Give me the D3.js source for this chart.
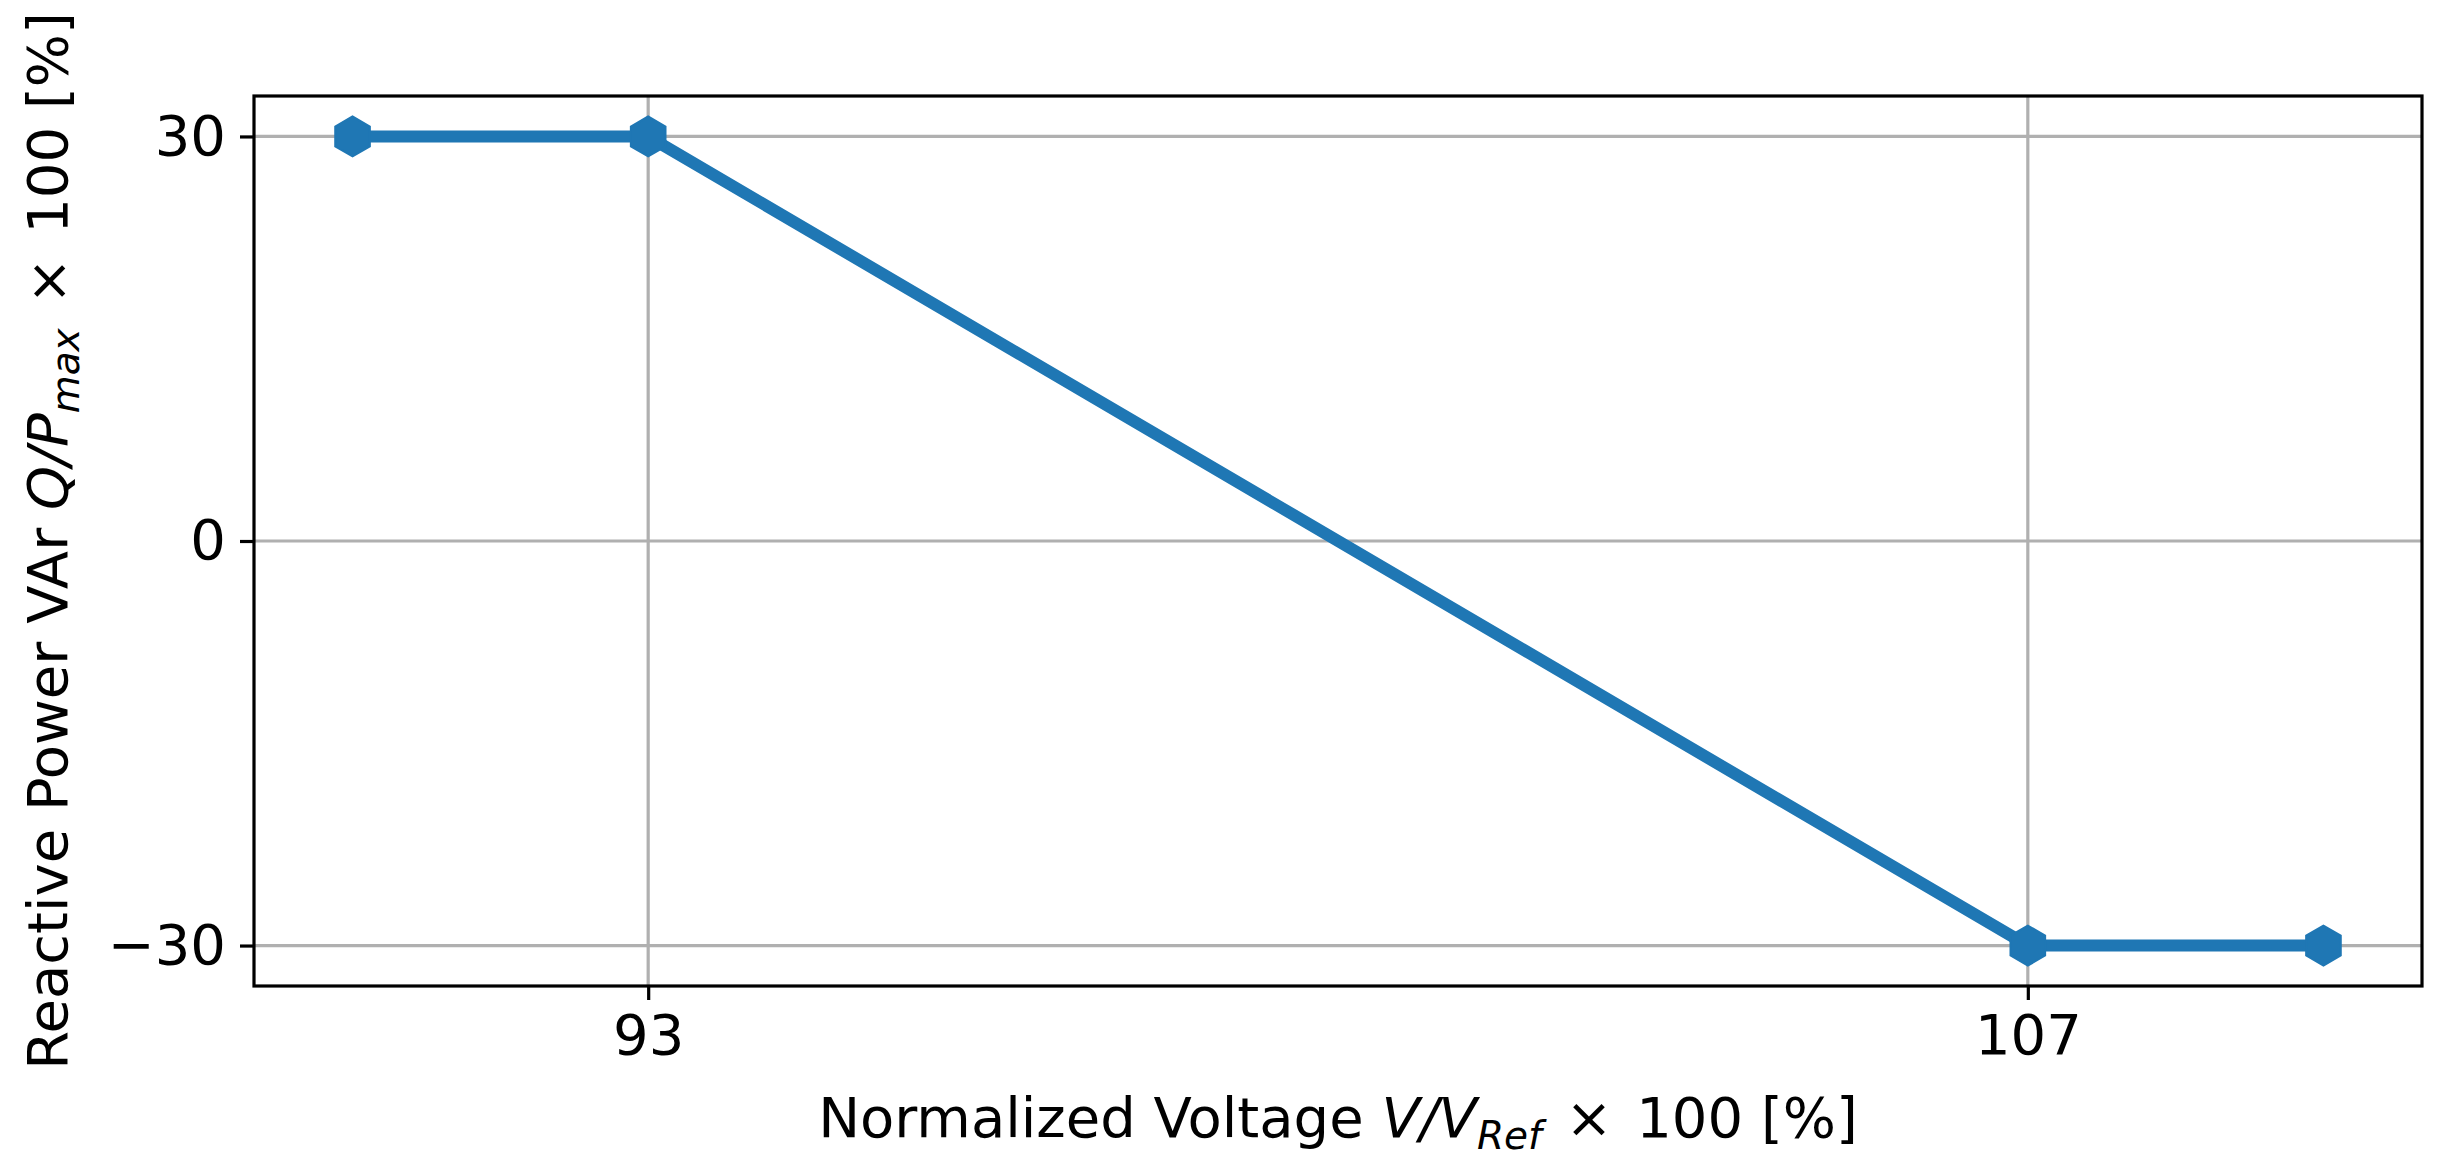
<!DOCTYPE html>
<html>
<head>
<meta charset="utf-8">
<script src="https://cdn.jsdelivr.net/npm/d3@7"></script>
<style>
    body { margin: 0; background: #fff; }
    text { font-family: "DejaVu Sans", sans-serif; fill: #000; }
</style>
</head>
<body>
<div id="chart"></div>
<script>
/* ===== Data ===== */
const voltage = [90, 93, 107, 110];
const reactivePower = [30, 30, -30, -30];
const xTicks = [93, 107];
const yTicks = [-30, 0, 30];

/* ===== Constants ===== */
const width = 2449;
const height = 1173;
const margin = {top: 96, bottom: 187, left: 254, right: 27};
const fontSize = 56;
const lineColor = "#1f77b4";

const points = voltage.map((v, i) => ({x: v, y: reactivePower[i]}));

const svg = d3.select("#chart")
              .append("svg")
              .attr("width", width)
              .attr("height", height);

// 5% padding like matplotlib autoscale
const xExt = d3.extent(voltage);
const xPad = (xExt[1] - xExt[0]) * 0.05;
const yExt = d3.extent(reactivePower);
const yPad = (yExt[1] - yExt[0]) * 0.05;

const x = d3.scaleLinear()
            .domain([xExt[0] - xPad, xExt[1] + xPad])
            .range([margin.left, width - margin.right]);

const y = d3.scaleLinear()
            .domain([yExt[0] - yPad, yExt[1] + yPad])
            .range([height - margin.bottom, margin.top]);

// Grid lines
svg.append("g")
   .selectAll("line")
   .data(xTicks)
   .join("line")
   .attr("x1", d => x(d)).attr("x2", d => x(d))
   .attr("y1", margin.top).attr("y2", height - margin.bottom)
   .attr("stroke", "#b0b0b0")
   .attr("stroke-width", 3.2);

svg.append("g")
   .selectAll("line")
   .data(yTicks)
   .join("line")
   .attr("x1", margin.left).attr("x2", width - margin.right)
   .attr("y1", d => y(d)).attr("y2", d => y(d))
   .attr("stroke", "#b0b0b0")
   .attr("stroke-width", 3.2);

// Line
const line = d3.line()
               .x(d => x(d.x))
               .y(d => y(d.y));

svg.append("path")
   .datum(points)
   .attr("fill", "none")
   .attr("stroke", lineColor)
   .attr("stroke-width", 12)
   .attr("stroke-linejoin", "round")
   .attr("d", line);

// Hexagon markers (pointy top)
const hexRadius = 20;
const hexagon = d3.line()(d3.range(6).map(k => {
    const a = Math.PI / 2 + k * Math.PI / 3;
    return [hexRadius * Math.cos(a), -hexRadius * Math.sin(a)];
})) + "Z";

svg.append("g")
   .selectAll("path")
   .data(points)
   .join("path")
   .attr("d", hexagon)
   .attr("transform", d => `translate(${x(d.x)},${y(d.y)})`)
   .attr("fill", lineColor)
   .attr("stroke", lineColor)
   .attr("stroke-width", 2);

// Axes
const xAxis = d3.axisBottom(x)
                .tickValues(xTicks)
                .tickSize(14)
                .tickPadding(14)
                .tickFormat(d3.format("d"));

const yAxis = d3.axisLeft(y)
                .tickValues(yTicks)
                .tickSize(14)
                .tickPadding(14)
                .tickFormat(d3.format("d"));

const gx = svg.append("g")
              .attr("transform", `translate(0,${height - margin.bottom})`)
              .call(xAxis);

const gy = svg.append("g")
              .attr("transform", `translate(${margin.left},0)`)
              .call(yAxis);

[gx, gy].forEach(g => {
    g.select(".domain").remove();
    g.selectAll(".tick line").attr("stroke", "#000").attr("stroke-width", 3.2);
    g.selectAll(".tick text")
     .attr("font-family", "DejaVu Sans, sans-serif")
     .attr("font-size", fontSize)
     .attr("fill", "#000");
});

// Frame
svg.append("rect")
   .attr("x", margin.left)
   .attr("y", margin.top)
   .attr("width", width - margin.left - margin.right)
   .attr("height", height - margin.top - margin.bottom)
   .attr("fill", "none")
   .attr("stroke", "#000")
   .attr("stroke-width", 3.2);

// Axis label with mathtext-like parts: plain, italic, italic subscript, plain
function mathLabel(sel, plain, italic, sub, tail) {
    sel.append("tspan").text(plain);
    sel.append("tspan").attr("font-style", "italic").text(italic);
    sel.append("tspan").attr("font-style", "italic").attr("font-size", 39).attr("dy", 12).text(sub);
    sel.append("tspan").attr("dy", -12).attr("dx", 6).text(" ×");
    sel.append("tspan").attr("dx", 6).text(" " + tail);
}

// X label
const xLabel = svg.append("text")
                  .attr("x", (margin.left + width - margin.right) / 2)
                  .attr("y", 1137)
                  .attr("text-anchor", "middle")
                  .attr("font-size", fontSize);
mathLabel(xLabel, "Normalized Voltage ", "V/V", "Ref", "100 [%]");

// Y label
const yLabel = svg.append("text")
                  .attr("transform", `translate(67,${(margin.top + height - margin.bottom) / 2}) rotate(-90)`)
                  .attr("text-anchor", "middle")
                  .attr("font-size", fontSize);
mathLabel(yLabel, "Reactive Power VAr ", "Q/P", "max", "100 [%]");
</script>
</body>
</html>
